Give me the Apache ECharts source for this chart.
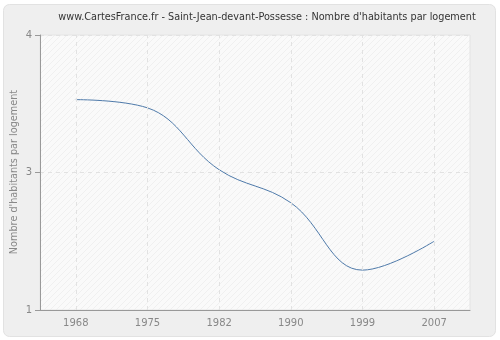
<!DOCTYPE html>
<html>
<head>
<meta charset="utf-8">
<script src="https://cdn.jsdelivr.net/npm/echarts@6/dist/echarts.min.js"></script>
<style>
html,body{margin:0;padding:0;background:#ffffff;}
#c{width:500px;height:340px;}
</style>
</head>
<body>
<div id="c"></div>
<script>
var titleText = "www.CartesFrance.fr - Saint-Jean-devant-Possesse : Nombre d'habitants par logement";
var yAxisName = "Nombre d'habitants par logement";
var years = ["1968", "1975", "1982", "1990", "1999", "2007"];
var values = [3.53, 3.47, 3.02, 2.78, 2.29, 2.50];
var yTickValues = [2, 3, 4];
var yTickLabels = ["1", "3", "4"];

function makeHatch() {
  var cv = document.createElement('canvas');
  cv.width = 6; cv.height = 6;
  var ctx = cv.getContext('2d');
  ctx.fillStyle = '#fafafa';
  ctx.fillRect(0, 0, 6, 6);
  ctx.strokeStyle = '#f0f0f0';
  ctx.lineWidth = 1;
  ctx.beginPath();
  ctx.moveTo(-1, 7); ctx.lineTo(7, -1);
  ctx.moveTo(-1, 1); ctx.lineTo(1, -1);
  ctx.moveTo(5, 7); ctx.lineTo(7, 5);
  ctx.stroke();
  return cv;
}

var chart = echarts.init(document.getElementById('c'), null, {renderer: 'canvas'});
var labelColor = '#888888';
var font = 'DejaVu Sans';

chart.setOption({
  animation: false,
  backgroundColor: '#ffffff',
  graphic: [{
    type: 'rect',
    z: -10,
    silent: true,
    shape: {x: 3.5, y: 4.5, width: 492, height: 332, r: 6},
    style: {fill: '#efefef', stroke: '#e2e2e2', lineWidth: 1}
  }, {
    type: 'text',
    z: 10,
    silent: true,
    x: 267,
    y: 17,
    style: {
      text: titleText,
      align: 'center',
      verticalAlign: 'middle',
      fill: '#333333',
      fontFamily: font,
      fontSize: 9.7
    }
  }, {
    type: 'text',
    z: 10,
    silent: true,
    x: 14,
    y: 172,
    rotation: Math.PI / 2,
    style: {
      text: yAxisName,
      align: 'center',
      verticalAlign: 'middle',
      fill: labelColor,
      fontFamily: font,
      fontSize: 9.7
    }
  }],
  grid: {
    left: 40, right: 30, top: 35, bottom: 30,
    outerBoundsMode: 'none',
    containLabel: false,
    show: true,
    backgroundColor: {image: makeHatch(), repeat: 'repeat'},
    borderColor: '#e4e4e4',
    borderWidth: 1
  },
  xAxis: {
    type: 'category',
    data: years,
    boundaryGap: true,
    axisLine: {lineStyle: {color: '#999999', width: 1}},
    axisTick: {alignWithLabel: true, length: 5, lineStyle: {color: '#999999'}},
    axisLabel: {color: labelColor, fontFamily: font, fontSize: 10, margin: 8},
    splitLine: {show: false}
  },
  yAxis: {
    type: 'value',
    min: 2, max: 4, interval: 1,
    axisLine: {show: true, lineStyle: {color: '#999999', width: 1}},
    axisTick: {show: true, length: 5, lineStyle: {color: '#999999'}},
    axisLabel: {
      color: labelColor, fontFamily: font, fontSize: 10, margin: 8,
      formatter: function (v) {
        var i = yTickValues.indexOf(v);
        return i >= 0 ? yTickLabels[i] : '';
      }
    },
    splitLine: {show: true, lineStyle: {color: '#e2e2e2', type: [4, 4], width: 1}}
  },
  series: [{
    type: 'line',
    data: values,
    smooth: 0.4,
    symbol: 'none',
    lineStyle: {color: '#4f7aaa', width: 1},
    markLine: {
      silent: true,
      symbol: ['none', 'none'],
      label: {show: false},
      lineStyle: {color: '#e2e2e2', type: [4, 4], width: 1},
      data: years.map(function (y) { return {xAxis: y}; })
    },
    z: 3
  }]
});
</script>
</body>
</html>
